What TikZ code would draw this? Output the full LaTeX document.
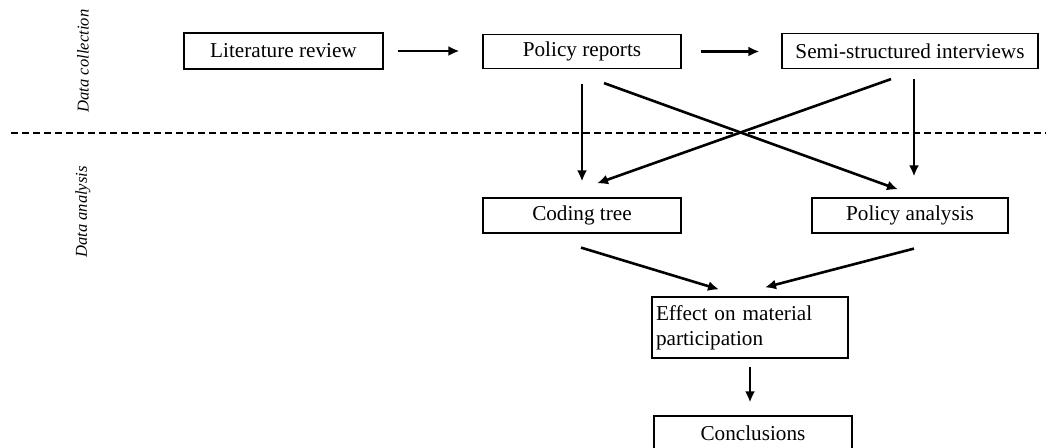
\documentclass[tikz,border=0pt]{standalone}
\usepackage{fontspec}
\setmainfont{Liberation Serif}[ItalicFont={Liberation Serif Italic}]
\usepackage{tikz}
\usetikzlibrary{arrows.meta,calc,positioning}

\begin{document}
\begin{tikzpicture}[x=0.5pt,y=-0.5pt,
    box/.style={draw=black,line width=0.6pt,inner sep=2pt,font=\fontsize{10.6}{12.5}\selectfont},
    arr/.style={line width=1.3pt,-{Latex[length=5.5pt,width=5pt]}},
    side/.style={rotate=90,font=\fontsize{8.3}{10}\selectfont\itshape}]
      \useasboundingbox (0,0) rectangle (1046,448);
      % Draw the boxes
      \node[box,minimum width=99.5pt,minimum height=18pt] (lit) at (283.5,51) {Literature review};
      \node[box,minimum width=99pt,minimum height=17pt] (pr) at (582,51.5) {Policy reports};
      \node[box,minimum width=128pt,minimum height=17.5pt] (ssi) at (910,51) {Semi-structured interviews};
      \node[box,minimum width=99pt,minimum height=17.5pt] (ct) at (582,215.5) {Coding tree};
      \node[box,minimum width=98pt,minimum height=17.5pt] (pa) at (910,215.5) {Policy analysis};
      \node[box,minimum width=98pt,minimum height=30.5pt,text width=94pt,align=left,inner sep=2pt] (eff) at (750,327.5) {Effect on material\\participation};
      \node[box,minimum width=99pt,minimum height=17.5pt] (con) at (753,433.5) {Conclusions};
      % phases
      \draw[dashed,line width=0.7pt,dash pattern=on 3.5pt off 2pt] (11,133) -- (1046,133);
      \node[side] (dc) at (83,61) {Data collection};
      \node[side] (da) at (83,212) {Data analysis};
      % collection arrows
      \draw[arr,shorten <=7pt,shorten >=11.5pt] (lit.east) -- (lit.east -| pr.west);
      \draw[arr,shorten <=9.5pt,shorten >=11pt] (pr.east) -- (pr.east -| ssi.west);
      \draw[arr,shorten <=7.5pt,shorten >=8pt] (pr.south) -- (pr.south |- ct.north);
      \draw[arr] ($(pr.south)+(22,14)$) -- ($(pa.north)+(-12,-8)$);
      \draw[arr] ($(ssi.south)+(-19,10)$) -- ($(ct.north)+(15,-14)$);
      \draw[arr] ($(ssi.south)+(4,10)$) -- ($(ssi.south |- pa.north)+(4,-21)$);
      % analysis arrows
      \draw[arr] ($(ct.south)+(-1,14)$) -- ($(eff.north)+(-31,-7)$);
      \draw[arr] ($(pa.south)+(4,15)$) -- ($(eff.north)+(15,-9)$);
      \draw[arr] ($(eff.south)+(0,8)$) -- ($(eff.south |- con.north)+(0,-13)$);
\end{tikzpicture}
\end{document}
